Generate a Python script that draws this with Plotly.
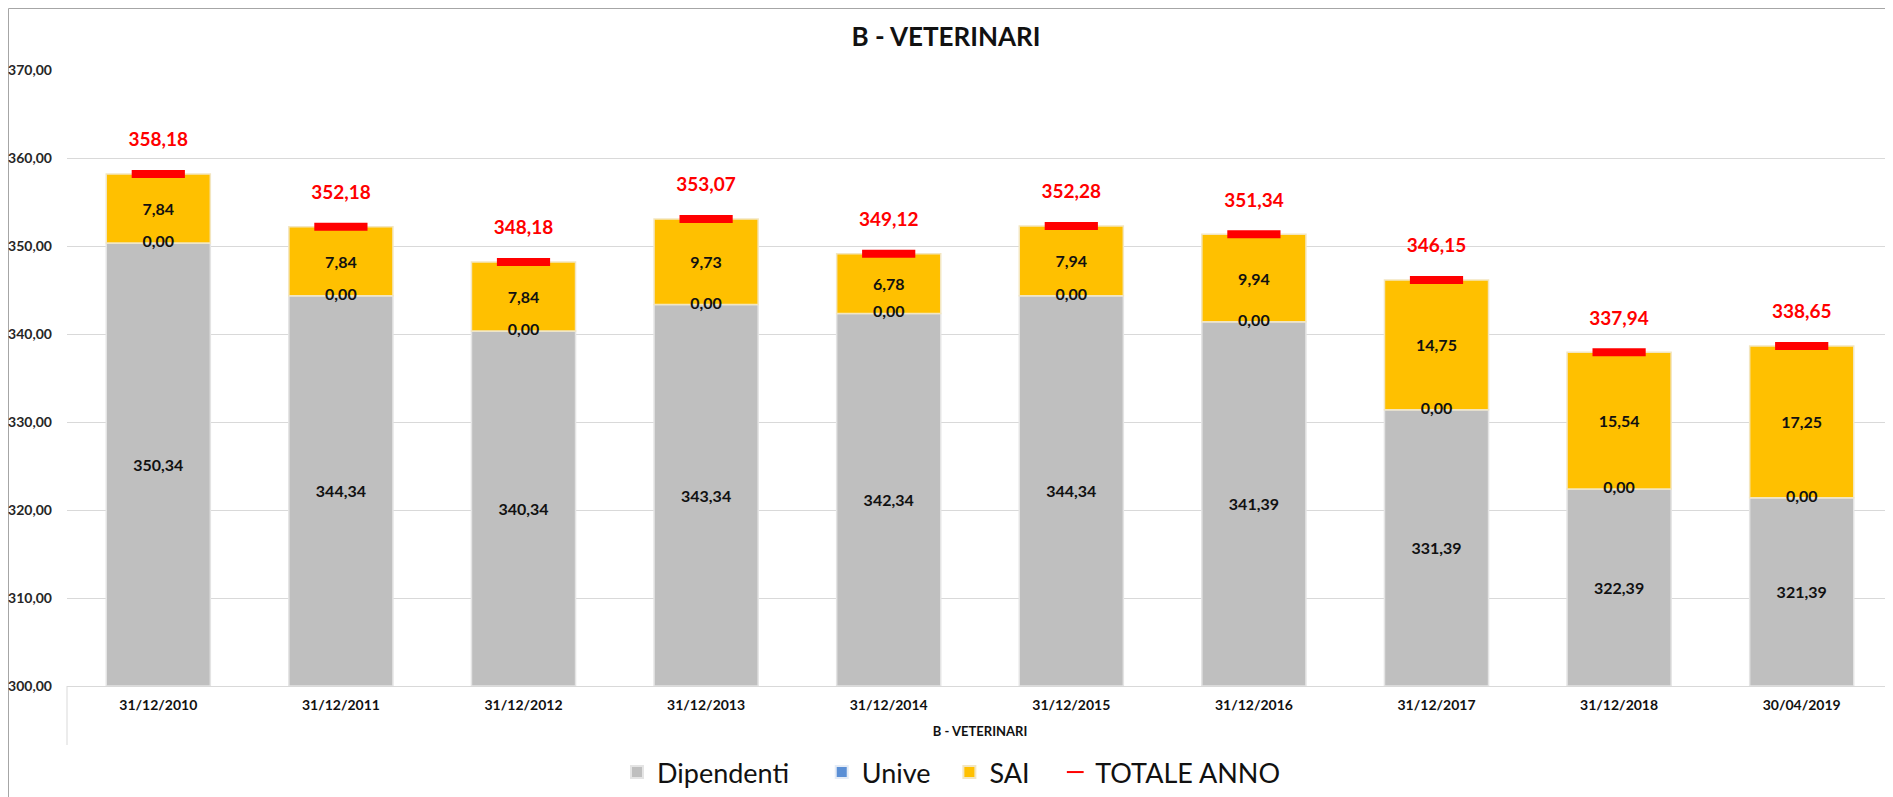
import plotly.graph_objects as go

categories = ["31/12/2010", "31/12/2011", "31/12/2012", "31/12/2013", "31/12/2014",
              "31/12/2015", "31/12/2016", "31/12/2017", "31/12/2018", "30/04/2019"]
dipendenti = [350.34, 344.34, 340.34, 343.34, 342.34, 344.34, 341.39, 331.39, 322.39, 321.39]
unive = [0, 0, 0, 0, 0, 0, 0, 0, 0, 0]
sai = [7.84, 7.84, 7.84, 9.73, 6.78, 7.94, 9.94, 14.75, 15.54, 17.25]
totale = [358.18, 352.18, 348.18, 353.07, 349.12, 352.28, 351.34, 346.15, 337.94, 338.65]
y_ticks = [300, 310, 320, 330, 340, 350, 360, 370]

Y_MIN, Y_MAX = 300, 370
OFF = 8  # page body margin
W, H = 1893 - OFF, 797 - OFF
ML, MR, MT = 67 - OFF, 0, 70 - OFF
MB = H - (686 - OFF)
PW, PH = W - ML - MR, H - MT - MB

FONT = "Lato"
NB = "\u00a0"  # extra spacing between legend entries

def fmt(v):
    return f"{v:.2f}".replace(".", ",")

def px_x(p):  # p: pixel in reference screenshot
    return (p - OFF - ML) / PW

def px_y(p):
    return (H - MB - (p - OFF)) / PH

fig = go.Figure()

BW = 0.57
lbl_font = dict(family=FONT, size=16, color="#111111", weight="bold")

fig.add_trace(go.Bar(
    name="Dipendenti" + NB * 4, x=categories, y=[d - Y_MIN for d in dipendenti],
    base=[Y_MIN] * len(dipendenti),
    marker=dict(color="#BFBFBF", line=dict(color="#E4E4E4", width=1.5)),
    text=[fmt(v) for v in dipendenti], textposition="inside", insidetextanchor="middle",
    textfont=lbl_font, constraintext="none", width=BW, hoverinfo="skip",
))
fig.add_trace(go.Bar(
    name="Unive" + NB * 2, x=categories, y=unive, base=dipendenti,
    marker=dict(color="#5B8FD5"), width=BW, hoverinfo="skip",
))
fig.add_trace(go.Bar(
    name="SAI" + NB * 3, x=categories, y=sai, base=[d + u for d, u in zip(dipendenti, unive)],
    marker=dict(color="#FFC000", line=dict(color="#F3E6C0", width=1.5)),
    text=[fmt(v) for v in sai], textposition="inside", insidetextanchor="middle",
    textfont=lbl_font, constraintext="none", width=BW, hoverinfo="skip",
))
# Unive value labels (zero-height segment)
fig.add_trace(go.Scatter(
    x=categories, y=[d + u / 2 for d, u in zip(dipendenti, unive)], mode="text",
    text=[fmt(v) for v in unive], textposition="middle center",
    textfont=lbl_font, showlegend=False, hoverinfo="skip",
))
fig.add_trace(go.Scatter(
    name="TOTALE ANNO", x=categories, y=totale, mode="markers",
    marker=dict(symbol="line-ew", size=38, color="#FF0000",
                line=dict(color="#FF0000", width=8)),
    hoverinfo="skip",
))
fig.add_trace(go.Scatter(
    x=categories, y=totale, mode="markers+text",
    marker=dict(size=35, color="rgba(0,0,0,0)"),
    text=[fmt(v) for v in totale], textposition="top center",
    textfont=dict(family=FONT, size=19, color="#FF0000", weight="bold"),
    showlegend=False, hoverinfo="skip", cliponaxis=False,
))

fig.update_layout(
    width=W, height=H,
    margin=dict(l=ML, r=MR, t=MT, b=MB),
    barmode="overlay",
    separators=",.",
    paper_bgcolor="white", plot_bgcolor="white",
    font=dict(family=FONT, color="#262626"),
    title=dict(text="<b>B - VETERINARI</b>", x=(946 - OFF) / W, xanchor="center",
               y=1 - (37 - OFF) / H, yanchor="middle", yref="container",
               font=dict(family=FONT, size=26, color="#111111")),
    legend=dict(orientation="h", x=px_x(617), xanchor="left", y=px_y(773), yanchor="middle",
                font=dict(family=FONT, size=27, color="#111111"),
                traceorder="normal", itemsizing="constant"),
    showlegend=True,
)
fig.update_xaxes(
    range=[-0.5, len(categories) - 0.5],
    showgrid=False, showline=True, linecolor="#D9D9D9", linewidth=1,
    tickfont=dict(family=FONT, size=14, color="#111111", weight="bold"),
    ticks="", ticklabelstandoff=6,
    title=dict(text="<b>B - VETERINARI</b>", font=dict(family=FONT, size=13, color="#111111"),
               standoff=15),
)
fig.update_yaxes(
    range=[Y_MIN, Y_MAX], tickvals=y_ticks, ticktext=[fmt(v) for v in y_ticks],
    showgrid=True, gridcolor="#D9D9D9", gridwidth=1, zeroline=False,
    showline=False, ticks="", ticklabelstandoff=14,
    tickfont=dict(family=FONT, size=14, color="#262626", weight="bold"),
)

# chart border and category-axis box line
fig.add_shape(type="rect", xref="paper", yref="paper",
              x0=px_x(OFF + 0.5), x1=px_x(1900), y0=px_y(800), y1=px_y(OFF + 0.5),
              line=dict(color="#A6A6A6", width=1), layer="below")
fig.add_shape(type="line", xref="paper", yref="paper",
              x0=0, x1=0, y0=0, y1=px_y(745),
              line=dict(color="#D9D9D9", width=1))

fig.write_html("out.html")
